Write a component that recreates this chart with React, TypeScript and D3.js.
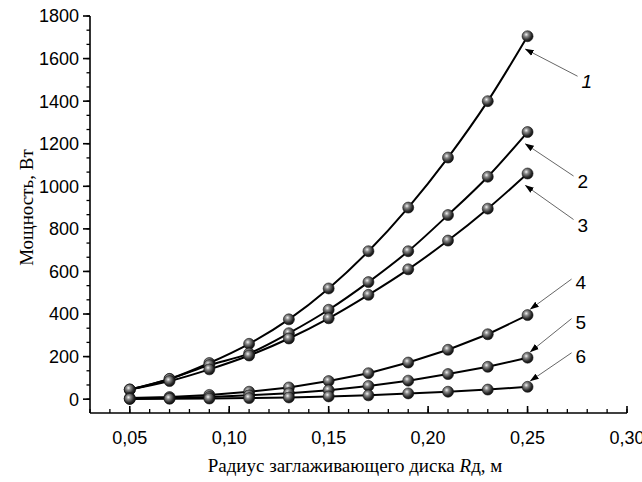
import React from "react";
import * as d3 from "d3";

// радиус диска, м
const radius = [0.05, 0.07, 0.09, 0.11, 0.13, 0.15, 0.17, 0.19, 0.21, 0.23, 0.25];

// мощность, Вт
const power1 = [45, 95, 170, 260, 375, 520, 695, 900, 1135, 1400, 1705];
const power2 = [45, 95, 160, 215, 310, 420, 550, 695, 865, 1045, 1255];
const power3 = [45, 85, 140, 205, 285, 380, 490, 610, 745, 895, 1060];
const power4 = [5, 10, 20, 35, 55, 85, 122, 172, 232, 305, 395];
const power5 = [2, 5, 10, 18, 28, 42, 62, 87, 118, 152, 195];
const power6 = [1, 2, 3, 5, 8, 13, 18, 27, 35, 45, 58];

const seriesNames = ["1", "2", "3", "4", "5", "6"];
const seriesValues = [power1, power2, power3, power4, power5, power6];
const smoothSeries = [true, true, true, false, false, false];

const xTicks = [0.05, 0.1, 0.15, 0.2, 0.25, 0.3];
const yTicks = [0, 200, 400, 600, 800, 1000, 1200, 1400, 1600, 1800];

const width = 642;
const height = 482;

// label offsets relative to the last point of each curve (px)
const labelOffsets = [
  { lx: 54, ly: 52, ax: -2, ay: 13 },
  { lx: 50, ly: 56, ax: -2, ay: 12 },
  { lx: 50, ly: 58, ax: -2, ay: 12 },
  { lx: 48, ly: -26, ax: 3, ay: -6 },
  { lx: 48, ly: -29, ax: 3, ay: -6 },
  { lx: 48, ly: -24, ax: 3, ay: -6 },
];

export default function App() {
  const x = d3.scaleLinear().domain([0.03, 0.3]).range([90, 627]);
  const y = d3.scaleLinear().domain([-65, 1800]).range([413, 16]);

  const xMinor = d3.range(3, 31).map((d) => d / 100);
  const yMinor = d3.range(0, 1801, 200 / 3);

  const fmtX = (d: number) => d.toFixed(2).replace(".", ",");

  const lineSmooth = d3
    .line<number>()
    .x((d, i) => x(radius[i]))
    .y((d) => y(d))
    .curve(d3.curveMonotoneX);
  const lineStraight = d3
    .line<number>()
    .x((d, i) => x(radius[i]))
    .y((d) => y(d));

  const x0 = x.range()[0];
  const y0 = y.range()[0];

  return (
    <div style={{ position: "absolute", left: 0, top: 0 }}>
      <svg width={width} height={height} style={{ display: "block", background: "#fff" }}>
        <defs>
          <radialGradient id="ball" cx="38%" cy="35%" r="65%">
            <stop offset="0%" stopColor="#f4f4f4" />
            <stop offset="30%" stopColor="#8a8a8a" />
            <stop offset="75%" stopColor="#2a2a2a" />
            <stop offset="100%" stopColor="#111" />
          </radialGradient>
          <marker
            id="arrow"
            viewBox="0 0 10 10"
            refX="9"
            refY="5"
            markerWidth="9"
            markerHeight="9"
            markerUnits="userSpaceOnUse"
            orient="auto"
          >
            <path d="M0,1.5 L10,5 L0,8.5 Z" fill="#000" />
          </marker>
        </defs>

        {/* axes */}
        <g stroke="#000" strokeWidth={1.6} fill="none">
          <line x1={x0} y1={y(1800)} x2={x0} y2={y0} />
          <line x1={x0} y1={y0} x2={x(0.3)} y2={y0} />
          {yMinor.map((d, i) => (
            <line key={"ym" + i} x1={x0} x2={x0 - 3.5} y1={y(d)} y2={y(d)} strokeWidth={1.3} />
          ))}
          {yTicks.map((d) => (
            <line key={"yt" + d} x1={x0} x2={x0 - 7} y1={y(d)} y2={y(d)} />
          ))}
          {xMinor.map((d, i) => (
            <line key={"xm" + i} x1={x(d)} x2={x(d)} y1={y0} y2={y0 - 4} strokeWidth={1.3} />
          ))}
          {xTicks.map((d) => (
            <line key={"xt" + d} x1={x(d)} x2={x(d)} y1={y0} y2={y0 - 7} />
          ))}
        </g>
        <g fontFamily="'Liberation Sans', Arial, sans-serif" fontSize={18} fill="#000">
          {yTicks.map((d) => (
            <text key={"yl" + d} x={x0 - 11} y={y(d)} dy="0.36em" textAnchor="end">
              {d}
            </text>
          ))}
          {xTicks.map((d) => (
            <text key={"xl" + d} x={x(d)} y={y0 + 31} textAnchor="middle">
              {fmtX(d)}
            </text>
          ))}
        </g>
        <g fontFamily="'Liberation Serif', 'Times New Roman', serif" fontSize={19} fill="#000">
          <text transform={`translate(33,${y(900)}) rotate(-90)`} textAnchor="middle">
            Мощность, Вт
          </text>
          <text x={355} y={472} textAnchor="middle">
            Радиус заглаживающего диска <tspan fontStyle="italic">R</tspan>д, м
          </text>
        </g>

        {/* curves */}
        {seriesValues.map((vals, s) => (
          <path
            key={"s" + s}
            d={(smoothSeries[s] ? lineSmooth : lineStraight)(vals) || ""}
            fill="none"
            stroke="#000"
            strokeWidth={2}
          />
        ))}
        {seriesValues.map((vals, s) => (
          <g key={"p" + s}>
            {vals.map((v, i) => (
              <circle
                key={i}
                cx={x(radius[i])}
                cy={y(v)}
                r={5.5}
                fill="url(#ball)"
                stroke="#111"
                strokeWidth={0.6}
              />
            ))}
          </g>
        ))}

        {/* annotations */}
        {seriesValues.map((vals, s) => {
          const px = x(radius[radius.length - 1]);
          const py = y(vals[vals.length - 1]);
          const o = labelOffsets[s];
          const lx = px + o.lx;
          const ly = py + o.ly;
          const startY = o.ly > 0 ? ly - 12 : ly - 10;
          return (
            <g key={"a" + s}>
              <line
                x1={lx - 4}
                y1={startY}
                x2={px + o.ax}
                y2={py + o.ay}
                stroke="#555"
                strokeWidth={0.9}
                markerEnd="url(#arrow)"
              />
              <text
                x={lx}
                y={ly}
                fontFamily="'Liberation Sans', Arial, sans-serif"
                fontSize={19}
                fontStyle={s === 0 ? "italic" : "normal"}
              >
                {seriesNames[s]}
              </text>
            </g>
          );
        })}
      </svg>
    </div>
  );
}
